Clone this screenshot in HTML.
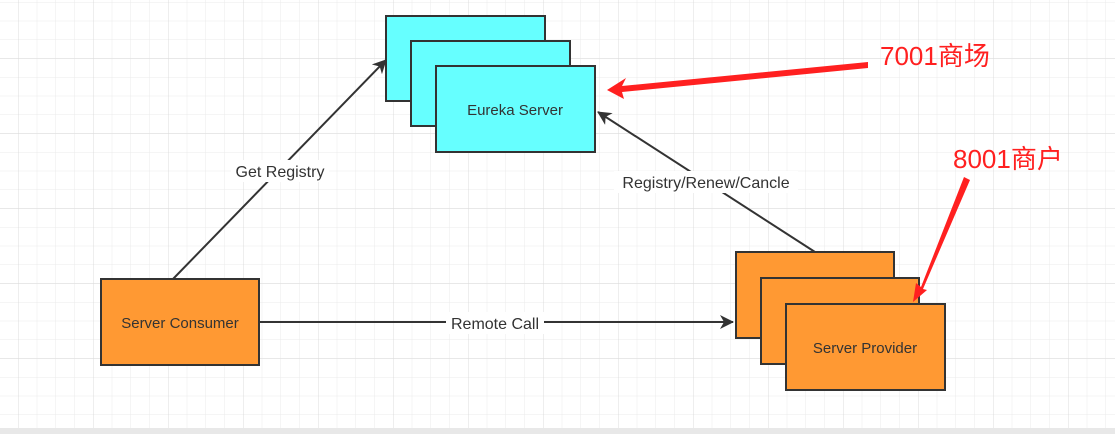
<!DOCTYPE html>
<html><head><meta charset="utf-8"><style>
body{margin:0;width:1115px;height:434px;overflow:hidden;background:#fff}
</style></head><body>
<svg width="1115" height="434" xmlns="http://www.w3.org/2000/svg" font-family="Liberation Sans, Noto Sans CJK SC, sans-serif">
<defs>
<pattern id="minor" x="18" y="2" width="18.75" height="18.75" patternUnits="userSpaceOnUse">
<path d="M0 0V18.75M0 0H18.75" stroke="#ebebeb" stroke-width="1" fill="none"/></pattern>
<pattern id="major" x="18" y="58" width="75" height="75" patternUnits="userSpaceOnUse">
<path d="M0 0V75M0 0H75" stroke="#dcdcdc" stroke-width="1" fill="none"/></pattern>
<marker id="ah" markerWidth="16" markerHeight="14" refX="13" refY="7" orient="auto" markerUnits="userSpaceOnUse">
<path d="M0 0L14 7L0 14L4 7Z" fill="#333"/></marker>
</defs>
<rect width="1115" height="428" fill="url(#minor)"/>
<rect width="1115" height="428" fill="url(#major)"/>
<rect y="428" width="1115" height="6" fill="#e8e8e8"/>
<g stroke="#333" stroke-width="2">
<line x1="173" y1="279" x2="386" y2="60" marker-end="url(#ah)"/>
<line x1="815" y1="252" x2="598" y2="112" marker-end="url(#ah)"/>
<line x1="259" y1="322" x2="733" y2="322" marker-end="url(#ah)"/>
<rect x="386" y="16" width="159" height="85" fill="#66ffff"/>
<rect x="411" y="41" width="159" height="85" fill="#66ffff"/>
<rect x="436" y="66" width="159" height="86" fill="#66ffff"/>
<rect x="101" y="279" width="158" height="86" fill="#ff9933"/>
<rect x="736" y="252" width="158" height="86" fill="#ff9933"/>
<rect x="761" y="278" width="158" height="86" fill="#ff9933"/>
<rect x="786" y="304" width="159" height="86" fill="#ff9933"/>
</g>
<g font-size="16" fill="#333" text-anchor="middle">
<rect x="231" y="160" width="98" height="22" fill="#fff"/>
<text x="280" y="177">Get Registry</text>
<rect x="614" y="171" width="184" height="22" fill="#fff"/>
<text x="706" y="188">Registry/Renew/Cancle</text>
<rect x="446" y="312" width="98" height="22" fill="#fff"/>
<text x="495" y="329">Remote Call</text>
<text x="515" y="115" font-size="15">Eureka Server</text>
<text x="180" y="328" font-size="15">Server Consumer</text>
<text x="865" y="353" font-size="15">Server Provider</text>
</g>
<path d="M868 62 L622 86 L626 78 L607 90 L624 99 L622 92 L868 68Z" fill="#ff2020"/>
<path d="M964 177 L921 287 L916 283 L913 302 L927 290 L923 289 L970 180Z" fill="#ff2020"/>
<g font-size="26" fill="#ff2020">
<text x="880" y="65">7001商场</text>
<text x="953" y="168">8001商户</text>
</g>
</svg>
</body></html>
